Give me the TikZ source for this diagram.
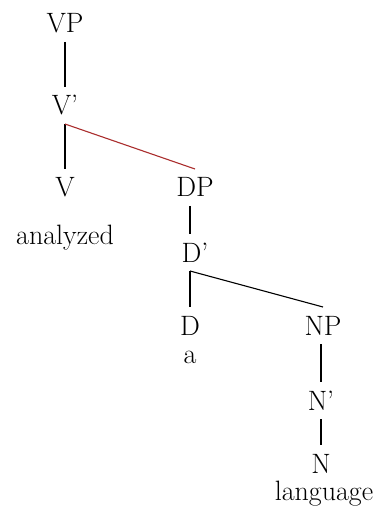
\documentclass[tikz,border=0pt]{standalone}
\definecolor{branchred}{RGB}{170,45,45}
\begin{document}
\begin{tikzpicture}[x=1pt,y=-1pt,font=\fontsize{28}{34}\selectfont,
  cat/.style={inner sep=0pt,outer xsep=0pt,outer ysep=9pt,text height=19pt,text depth=0pt,anchor=base},
  word/.style={inner sep=0pt,anchor=base},
  branch/.style={line width=1.1pt}]
\useasboundingbox (0,0) rectangle (380,510);

\node[cat] (vp) at (65,33) {VP};
\node[cat] (vbar) at (65,115) {V'};
\node[cat] (v) at (65,197) {V};
\node[word] (analyzed) at (65,244) {analyzed};

\node[cat] (dp) at (195,197) {DP};
\node[cat] (dbar) at (195,262) {D'};
\node[cat] (d) at (190,335) {D};
\node[word] (a) at (190,363) {a};

\node[cat] (np) at (323,335) {NP};
\node[cat] (nbar) at (321,410) {N'};
\node[cat] (n) at (321,473) {N};
\node[word] (language) at (324,500) {language};

\draw[branch] (vp.south) -- (vbar.north);
\draw[branch] (vbar.south) -- (v.north);
\draw[branch,branchred] (vbar.south) -- (dp.north);
\draw[branch] (dp.south -| d.north) -- (dbar.north -| d.north);
\draw[branch] (dbar.south -| d.north) -- (d.north);
\draw[branch] (dbar.south -| d.north) -- (np.north);
\draw[branch] (np.south -| nbar.north) -- (nbar.north);
\draw[branch] (nbar.south) -- (n.north);
\end{tikzpicture}
\end{document}
